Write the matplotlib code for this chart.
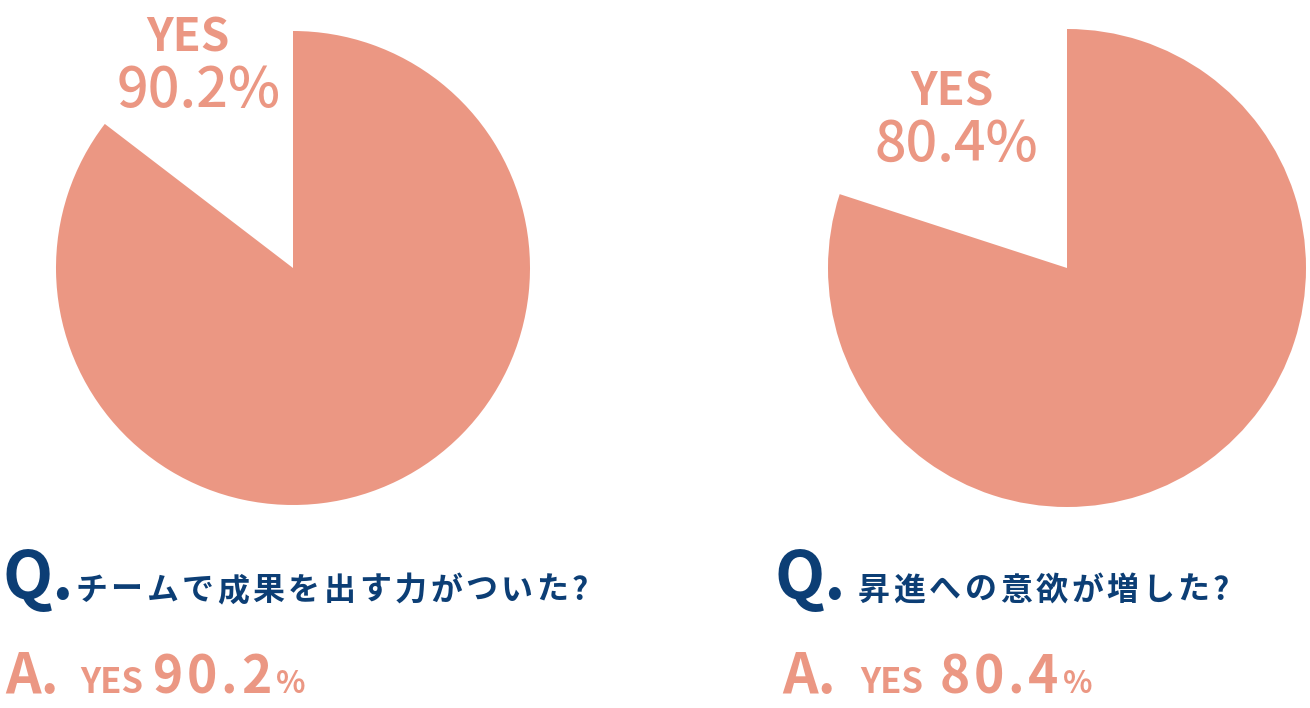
import matplotlib
matplotlib.use('Agg')
import matplotlib.pyplot as plt

plt.rcParams['font.family'] = ['Noto Sans CJK JP', 'DejaVu Sans']

SALMON = '#EB9783'
NAVY = '#0C3E75'

# values as printed
questions = ['チームで成果を出す力がついた?', '昇進への意欲が増した?']
yes_labels = ['90.2', '80.4']
# share of the circle actually filled in the picture
yes_drawn = [85.4, 80.0]

W, H = 1310, 708
fig = plt.figure(figsize=(W / 100, H / 100), dpi=100)
ov = fig.add_axes([0, 0, 1, 1], zorder=5)
ov.set_xlim(0, W)
ov.set_ylim(H, 0)
ov.axis('off')
renderer = fig.canvas.get_renderer()


def pie_axes(cx, cy, r):
    return fig.add_axes([(cx - r) / W, (H - cy - r) / H, 2 * r / W, 2 * r / H])


def spaced(x, y, s, spacing, **kw):
    # draw characters one by one with extra tracking
    for ch in s:
        t = ov.text(x, y, ch, va='baseline', ha='left', **kw)
        bb = t.get_window_extent(renderer)
        x += bb.width + spacing
    return x


pies = [(293, 268, 237), (1067, 268, 239)]
inner = [((188, 52), (199, 107)), ((952, 105), (956, 161))]
qx = [(3, 75), (775, 858)]
ax_row = [(5, 80, 153), (782, 860, 940)]

for i in range(2):
    cx, cy, r = pies[i]
    ax = pie_axes(cx, cy, r)
    ax.pie([yes_drawn[i], 100 - yes_drawn[i]], colors=[SALMON, 'none'],
           startangle=90, counterclock=False, radius=1,
           wedgeprops=dict(linewidth=0))
    ax.set_xlim(-1, 1)
    ax.set_ylim(-1, 1)
    ax.set_aspect('auto')
    ax.axis('off')

    (yx, yy), (px, py) = inner[i]
    ov.text(yx, yy, 'YES', color=SALMON, fontsize=33, fontweight='bold',
            ha='center', va='baseline')
    ov.text(px, py, yes_labels[i] + '%', color=SALMON, fontsize=40,
            fontweight='medium', ha='center', va='baseline')

    q0, q1 = qx[i]
    ov.text(q0, 599, 'Q.', color=NAVY, fontsize=47, fontweight='bold',
            va='baseline')
    spaced(q1, 600, questions[i], 3.5, color=NAVY, fontsize=23,
           fontweight='bold')

    a0, a1, a2 = ax_row[i]
    ov.text(a0, 693, 'A.', color=SALMON, fontsize=40, fontweight='bold',
            va='baseline')
    ov.text(a1, 693, 'YES', color=SALMON, fontsize=25, fontweight='bold',
            va='baseline')
    end = spaced(a2, 693, yes_labels[i], 3.5, color=SALMON, fontsize=37,
                 fontweight='bold')
    ov.text(end + 1, 693, '%', color=SALMON, fontsize=22, fontweight='bold',
            va='baseline')

fig.savefig('out.png', dpi=100, facecolor='white')
